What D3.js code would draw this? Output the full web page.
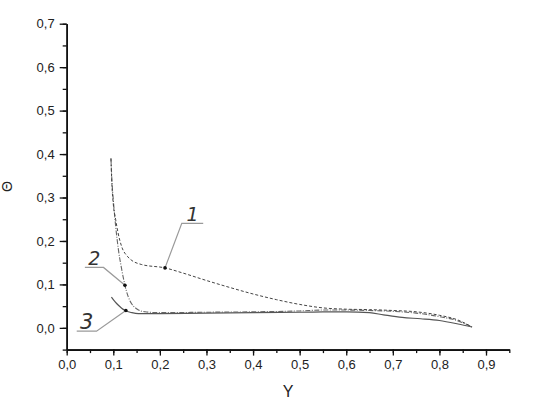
<!DOCTYPE html>
<html><head><meta charset="utf-8">
<script src="https://cdn.jsdelivr.net/npm/d3@7/dist/d3.min.js"></script>
<style>body{margin:0;background:#fff}svg{display:block}</style>
</head><body><svg id="c" width="534" height="404"></svg>
<script>
// ---- data ----
const xTicks = [0,0.1,0.2,0.3,0.4,0.5,0.6,0.7,0.8,0.9];
const yTicks = [0,0.1,0.2,0.3,0.4,0.5,0.6,0.7];
const curve1X = [0.095,0.097,0.100,0.105,0.110,0.118,0.130,0.140,0.160,0.211,0.250,0.300,0.350,0.400,0.450,0.500,0.550,0.600,0.650,0.700,0.750,0.800,0.840,0.870];
const curve1Y = [0.390,0.330,0.285,0.250,0.220,0.187,0.165,0.155,0.146,0.138,0.126,0.109,0.093,0.078,0.065,0.054,0.046,0.043,0.042,0.040,0.037,0.029,0.018,0.002];
const curve2X = [0.095,0.097,0.100,0.105,0.111,0.118,0.125,0.132,0.139,0.150,0.168,0.200,0.300,0.400,0.500,0.550,0.600,0.650,0.700,0.750,0.800,0.840,0.870];
const curve2Y = [0.390,0.340,0.295,0.235,0.180,0.135,0.098,0.072,0.056,0.044,0.037,0.035,0.036,0.037,0.039,0.041,0.041,0.040,0.038,0.034,0.026,0.016,0.002];
const curve3X = [0.096,0.104,0.111,0.118,0.125,0.140,0.154,0.200,0.300,0.400,0.500,0.550,0.600,0.650,0.680,0.720,0.760,0.800,0.840,0.870];
const curve3Y = [0.071,0.060,0.052,0.045,0.040,0.035,0.033,0.033,0.034,0.035,0.036,0.037,0.037,0.035,0.030,0.024,0.021,0.017,0.009,0.002];
const labels = ["1","2","3"];
// leader lines: [start, elbow, dot] in data coordinates
const leader1 = [[0.293,0.2405],[0.247,0.2405],[0.211,0.138]];
const leader2 = [[0.039,0.139],[0.079,0.139],[0.125,0.098]];
const leader3 = [[0.0215,-0.0076],[0.064,-0.0076],[0.127,0.040]];

// ---- chart ----
const svg = d3.select("#c");
const x = d3.scaleLinear().domain([0,0.95]).range([66.7,509.3]);
const y = d3.scaleLinear().domain([-0.05,0.7]).range([349.6,23.7]);
const fmt = d => d3.format(".1f")(d).replace(".", ",");

// axes
const xAxis = d3.axisBottom(x).tickValues(xTicks).tickFormat(fmt).tickSize(6).tickSizeOuter(0).tickPadding(4);
const xMinor = d3.axisBottom(x).tickValues(d3.range(0,20).map(i=>i*0.05).filter(v=>v<=0.951)).tickFormat("").tickSize(3.5).tickSizeOuter(0);
const yAxis = d3.axisLeft(y).tickValues(yTicks).tickFormat(fmt).tickSize(7).tickSizeOuter(0).tickPadding(5);
const yMinor = d3.axisLeft(y).tickValues(d3.range(0,16).map(i=>-0.05+i*0.05)).tickFormat("").tickSize(4).tickSizeOuter(0);

function style(g){
  g.selectAll(".domain").attr("stroke","#111").attr("stroke-width",1.6);
  g.selectAll(".tick line").attr("stroke","#111").attr("stroke-width",1.3);
  g.selectAll("text").attr("font-family","'Liberation Sans', Arial, sans-serif").attr("font-size",13).attr("fill","#222");
}
svg.append("g").attr("transform",`translate(0,${y(-0.05)})`).call(xMinor).call(style);
svg.append("g").attr("transform",`translate(0,${y(-0.05)})`).call(xAxis).call(style);
svg.append("g").attr("transform",`translate(${x(0)},0)`).call(yMinor).call(style);
svg.append("g").attr("transform",`translate(${x(0)},0)`).call(yAxis).call(style);

svg.append("text").attr("x",(x(0)+x(0.95))/2).attr("y",397).attr("text-anchor","middle")
  .attr("font-family","'Liberation Sans', Arial, sans-serif").attr("font-size",16).attr("fill","#222").text("Y");
svg.append("text").attr("transform",`translate(12,${(y(-0.05)+y(0.7))/2}) rotate(-90)`).attr("text-anchor","middle")
  .attr("font-family","'Liberation Sans', Arial, sans-serif").attr("font-size",14).attr("fill","#222").text("Θ");

// curves
const line = d3.line().x(d=>x(d[0])).y(d=>y(d[1])).curve(d3.curveMonotoneX);
const zip = (a,b) => a.map((v,i)=>[v,b[i]]);
svg.append("path").datum(zip(curve3X,curve3Y)).attr("d",line).attr("fill","none").attr("stroke","#555").attr("stroke-width",1.2);
svg.append("path").datum(zip(curve2X,curve2Y)).attr("d",line).attr("fill","none").attr("stroke","#666").attr("stroke-width",1.1).attr("stroke-dasharray","5,1.5,1,1.5");
svg.append("path").datum(zip(curve1X,curve1Y)).attr("d",line).attr("fill","none").attr("stroke","#444").attr("stroke-width",1).attr("stroke-dasharray","3,2");

// leaders & labels
const lead = d3.line().x(d=>x(d[0])).y(d=>y(d[1]));
[leader1,leader2,leader3].forEach((L,i)=>{
  svg.append("path").datum(L).attr("d",lead).attr("fill","none").attr("stroke","#9a9a9a").attr("stroke-width",1.2);
  svg.append("circle").attr("cx",x(L[2][0])).attr("cy",y(L[2][1])).attr("r",1.8).attr("fill","#111");
  const cx = (x(L[0][0])+x(L[1][0]))/2;
  svg.append("text").attr("x",cx).attr("y",y(L[0][1])-2).attr("text-anchor","middle")
    .attr("font-family","'DejaVu Sans', sans-serif").attr("font-style","italic").attr("font-weight",300)
    .attr("font-size",i===2?21:19).attr("fill","#333").text(labels[i]);
});
</script></body></html>
